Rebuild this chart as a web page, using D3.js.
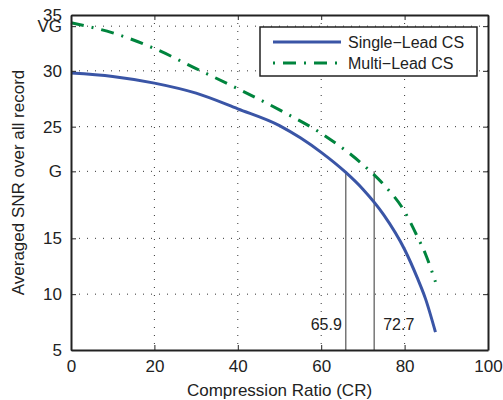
<!DOCTYPE html>
<html>
<head>
<meta charset="utf-8">
<script src="https://cdn.jsdelivr.net/npm/d3@7"></script>
<style>
  body { margin: 0; background: #fff; }
  svg { font-family: 'Liberation Sans', Arial, sans-serif; }
</style>
</head>
<body>
<svg id="chart" width="503" height="400"></svg>
<script>
// compression ratio vs averaged SNR
const singleCR = [0, 10, 20, 30, 40, 50, 55, 60, 65.9, 70, 75, 80, 83, 85, 87.4]
const singleSNR = [29.8, 29.5, 28.9, 28.0, 26.6, 25.1, 24.0, 22.7, 20.9, 19.4, 17.1, 14.0, 11.5, 9.6, 6.6]
const multiCR = [0, 10, 20, 30, 40, 50, 60, 70, 75, 80, 83, 85, 87.4]
const multiSNR = [34.3, 33.4, 32.0, 30.2, 28.4, 26.5, 24.4, 21.6, 19.8, 17.4, 15.2, 13.6, 11.1]
const seriesNames = ['Single\u2212Lead CS', 'Multi\u2212Lead CS']
const xTicks = [0, 20, 40, 60, 80, 100]
const yTicks = [5, 10, 15, 21, 25, 30, 34, 35]
const yTickLabels = ['5', '10', '15', 'G', '25', '30', 'VG', '35']
const markers = [65.9, 72.7]
const markerLevel = 21

const marginLeft = 71
const marginRight = 15
const marginTop = 15
const marginBottom = 50

const svg = d3.select('#chart')
const width = 503 - marginLeft - marginRight
const height = 400 - marginTop - marginBottom

const x = d3.scaleLinear().domain([0, 100]).range([0, width])
const y = d3.scaleLinear().domain([5, 35]).range([height, 0])

const g = svg.append('g').attr('transform', `translate(${marginLeft} ${marginTop})`)

// dotted grid
g.append('g')
  .selectAll('line')
  .data(xTicks.slice(1, -1))
  .join('line')
  .attr('x1', (d) => x(d))
  .attr('x2', (d) => x(d))
  .attr('y1', 0)
  .attr('y2', height)
  .attr('stroke', '#000')
  .attr('stroke-width', 1)
  .attr('stroke-dasharray', '1,7')
  .attr('opacity', 0.8)

g.append('g')
  .selectAll('line')
  .data(yTicks.slice(1, -1))
  .join('line')
  .attr('x1', 0)
  .attr('x2', width)
  .attr('y1', (d) => y(d))
  .attr('y2', (d) => y(d))
  .attr('stroke', '#000')
  .attr('stroke-width', 1)
  .attr('stroke-dasharray', '1,7')
  .attr('opacity', 0.8)

// marker lines
g.append('g')
  .selectAll('line')
  .data(markers)
  .join('line')
  .attr('x1', (d) => x(d))
  .attr('x2', (d) => x(d))
  .attr('y1', y(markerLevel))
  .attr('y2', height)
  .attr('stroke', '#555')
  .attr('stroke-width', 1.2)

g.append('text')
  .attr('x', x(markers[0]) - 4)
  .attr('y', y(6.8))
  .attr('text-anchor', 'end')
  .attr('font-size', 16)
  .attr('fill', '#222')
  .text(markers[0])

g.append('text')
  .attr('x', x(markers[1]) + 9)
  .attr('y', y(6.8))
  .attr('text-anchor', 'start')
  .attr('font-size', 16)
  .attr('fill', '#222')
  .text(markers[1])

// curves
const line = d3.line().curve(d3.curveMonotoneX)
const singlePts = singleCR.map((c, i) => [x(c), y(singleSNR[i])])
const multiPts = multiCR.map((c, i) => [x(c), y(multiSNR[i])])

g.append('path')
  .attr('d', line(multiPts))
  .attr('fill', 'none')
  .attr('stroke', '#00843d')
  .attr('stroke-width', 3)
  .attr('stroke-dasharray', '13,8,2,8')

g.append('path')
  .attr('d', line(singlePts))
  .attr('fill', 'none')
  .attr('stroke', '#3a55a6')
  .attr('stroke-width', 3)

// axes (matlab style, ticks inward)
g.append('g')
  .attr('transform', `translate(0 ${height})`)
  .call(d3.axisBottom(x).tickValues(xTicks).tickSize(-5).tickPadding(10).tickSizeOuter(0))
g.append('g')
  .call(d3.axisLeft(y).tickValues(yTicks).tickFormat((d, i) => yTickLabels[i]).tickSize(-5).tickPadding(9).tickSizeOuter(0))

g.append('g')
  .call(d3.axisTop(x).tickValues(xTicks).tickSize(-5).tickFormat('').tickSizeOuter(0))
g.append('g')
  .attr('transform', `translate(${width} 0)`)
  .call(d3.axisRight(y).tickValues(yTicks).tickSize(-5).tickFormat('').tickSizeOuter(0))

g.selectAll('.domain').attr('stroke', '#222').attr('stroke-width', 2)
g.selectAll('.tick line').attr('stroke', '#222')
g.selectAll('.tick text')
  .attr('font-size', 17)
  .attr('fill', '#222')
  .attr('font-family', "'Liberation Sans', Arial, sans-serif")

// axis titles
svg.append('text')
  .attr('x', marginLeft + width / 2)
  .attr('y', 396)
  .attr('text-anchor', 'middle')
  .attr('font-size', 17)
  .attr('fill', '#222')
  .text('Compression Ratio (CR)')

svg.append('text')
  .attr('transform', `translate(24 ${marginTop + height / 2}) rotate(-90)`)
  .attr('text-anchor', 'middle')
  .attr('font-size', 17)
  .attr('fill', '#222')
  .text('Averaged SNR over all record')

// legend
const legend = svg.append('g').attr('transform', 'translate(260 27)')
legend.append('rect')
  .attr('width', 217)
  .attr('height', 49)
  .attr('fill', '#fff')
  .attr('stroke', '#222')
  .attr('stroke-width', 1.5)

const legendRows = [
  { name: seriesNames[0], color: '#3a55a6', dash: null },
  { name: seriesNames[1], color: '#00843d', dash: '13,8,2,8' },
]
legendRows.forEach((r, i) => {
  const yy = 15 + i * 21
  legend.append('line')
    .attr('x1', 13)
    .attr('x2', 81)
    .attr('y1', yy)
    .attr('y2', yy)
    .attr('stroke', r.color)
    .attr('stroke-width', 3)
    .attr('stroke-dasharray', r.dash)
    .attr('stroke-dashoffset', i ? 21 : 0)
  legend.append('text')
    .attr('x', 88)
    .attr('y', yy + 6)
    .attr('font-size', 16)
    .attr('fill', '#222')
    .text(r.name)
})
</script>
</body>
</html>
